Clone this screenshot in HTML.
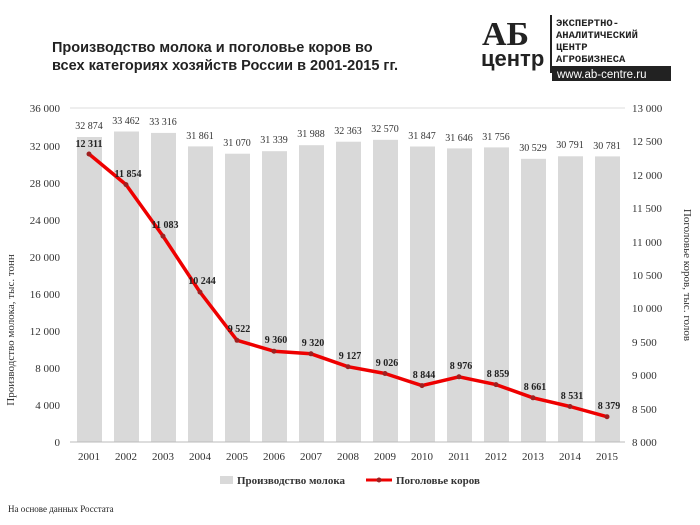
<!DOCTYPE html>
<html><head><meta charset="utf-8"><style>
body{margin:0;background:#fff;}
svg{display:block;font-family:"Liberation Serif",serif;}
</style></head><body>
<svg width="700" height="525" viewBox="0 0 700 525" xmlns="http://www.w3.org/2000/svg">
<text x="52" y="52" font-family="Liberation Sans,sans-serif" font-weight="bold" font-size="14.5" fill="#222">Производство молока и поголовье коров во</text>
<text x="52" y="70" font-family="Liberation Sans,sans-serif" font-weight="bold" font-size="14.5" fill="#222">всех категориях хозяйств России в 2001-2015 гг.</text>
<!-- logo -->
<g font-family="Liberation Serif,serif" font-weight="bold" fill="#222">
<text x="482" y="45" font-size="34">АБ</text>
<text x="481" y="66" font-size="22" font-family="Liberation Sans,sans-serif">центр</text>
</g>
<rect x="550" y="15" width="2" height="58" fill="#222"/>
<g font-family="Liberation Mono,monospace" font-weight="bold" font-size="10.5" fill="#222">
<text x="556" y="26">ЭКСПЕРТНО-</text>
<text x="556" y="38">АНАЛИТИЧЕСКИЙ</text>
<text x="556" y="50">ЦЕНТР</text>
<text x="556" y="62">АГРОБИЗНЕСА</text>
</g>
<rect x="552" y="66" width="119" height="15" fill="#222"/>
<text x="557" y="78" font-family="Liberation Sans,sans-serif" font-size="11.5" fill="#fff">www.ab-centre.ru</text>
<line x1="70" y1="108" x2="625" y2="108" stroke="#ddd"/>
<g fill="#d9d9d9">
<rect x="77" y="137" width="25" height="305"/>
<rect x="114" y="131.5" width="25" height="310.5"/>
<rect x="151" y="132.9" width="25" height="309.1"/>
<rect x="188" y="146.4" width="25" height="295.6"/>
<rect x="225" y="153.7" width="25" height="288.3"/>
<rect x="262" y="151.2" width="25" height="290.8"/>
<rect x="299" y="145.2" width="25" height="296.8"/>
<rect x="336" y="141.7" width="25" height="300.3"/>
<rect x="373" y="139.8" width="25" height="302.2"/>
<rect x="410" y="146.5" width="25" height="295.5"/>
<rect x="447" y="148.4" width="25" height="293.6"/>
<rect x="484" y="147.4" width="25" height="294.6"/>
<rect x="521" y="158.8" width="25" height="283.2"/>
<rect x="558" y="156.3" width="25" height="285.7"/>
<rect x="595" y="156.4" width="25" height="285.6"/>
</g>
<line x1="70" y1="442" x2="625" y2="442" stroke="#bbb"/>
<g font-size="10" fill="#333" text-anchor="middle">
<text x="89" y="129">32 874</text><text x="126" y="124">33 462</text><text x="163" y="125">33 316</text>
<text x="200" y="139">31 861</text><text x="237" y="146">31 070</text><text x="274" y="143">31 339</text>
<text x="311" y="137">31 988</text><text x="348" y="134">32 363</text><text x="385" y="132">32 570</text>
<text x="422" y="139">31 847</text><text x="459" y="141">31 646</text><text x="496" y="140">31 756</text>
<text x="533" y="151">30 529</text><text x="570" y="148">30 791</text><text x="607" y="149">30 781</text>
</g>
<polyline fill="none" stroke="#e00" stroke-width="3.5" stroke-linejoin="round" points="89,154 126,184.6 163,236.1 200,292.1 237,340.3 274,351.2 311,353.8 348,366.7 385,373.5 422,385.6 459,376.8 496,384.6 533,397.8 570,406.5 607,416.7"/>
<g fill="#a02020">
<circle cx="89" cy="154" r="2.5"/><circle cx="126" cy="184.6" r="2.5"/><circle cx="163" cy="236.1" r="2.5"/><circle cx="200" cy="292.1" r="2.5"/><circle cx="237" cy="340.3" r="2.5"/><circle cx="274" cy="351.2" r="2.5"/><circle cx="311" cy="353.8" r="2.5"/><circle cx="348" cy="366.7" r="2.5"/><circle cx="385" cy="373.5" r="2.5"/><circle cx="422" cy="385.6" r="2.5"/><circle cx="459" cy="376.8" r="2.5"/><circle cx="496" cy="384.6" r="2.5"/><circle cx="533" cy="397.8" r="2.5"/><circle cx="570" cy="406.5" r="2.5"/><circle cx="607" cy="416.7" r="2.5"/>
</g>
<g font-size="10" font-weight="bold" fill="#222" text-anchor="middle">
<text x="89" y="147">12 311</text><text x="128" y="177">11 854</text><text x="165" y="228">11 083</text>
<text x="202" y="284">10 244</text><text x="239" y="332">9 522</text><text x="276" y="343">9 360</text>
<text x="313" y="346">9 320</text><text x="350" y="359">9 127</text><text x="387" y="366">9 026</text>
<text x="424" y="378">8 844</text><text x="461" y="369">8 976</text><text x="498" y="377">8 859</text>
<text x="535" y="390">8 661</text><text x="572" y="399">8 531</text><text x="609" y="409">8 379</text>
</g>
<g font-size="11" fill="#333" text-anchor="end">
<text x="60" y="112">36 000</text><text x="60" y="150">32 000</text><text x="60" y="187">28 000</text>
<text x="60" y="224">24 000</text><text x="60" y="261">20 000</text><text x="60" y="298">16 000</text>
<text x="60" y="335">12 000</text><text x="60" y="372">8 000</text><text x="60" y="409">4 000</text><text x="60" y="446">0</text>
</g>
<g font-size="11" fill="#333">
<text x="632" y="112">13 000</text><text x="632" y="145">12 500</text><text x="632" y="179">12 000</text>
<text x="632" y="212">11 500</text><text x="632" y="246">11 000</text><text x="632" y="279">10 500</text>
<text x="632" y="312">10 000</text><text x="632" y="346">9 500</text><text x="632" y="379">9 000</text>
<text x="632" y="413">8 500</text><text x="632" y="446">8 000</text>
</g>
<g font-size="11" fill="#333" text-anchor="middle">
<text x="89" y="460">2001</text><text x="126" y="460">2002</text><text x="163" y="460">2003</text><text x="200" y="460">2004</text><text x="237" y="460">2005</text><text x="274" y="460">2006</text><text x="311" y="460">2007</text><text x="348" y="460">2008</text><text x="385" y="460">2009</text><text x="422" y="460">2010</text><text x="459" y="460">2011</text><text x="496" y="460">2012</text><text x="533" y="460">2013</text><text x="570" y="460">2014</text><text x="607" y="460">2015</text>
</g>
<text transform="translate(14,330) rotate(-90)" font-size="11" fill="#333" text-anchor="middle">Производство молока, тыс. тонн</text>
<text transform="translate(684,275) rotate(90)" font-size="11" fill="#333" text-anchor="middle">Поголовье коров, тыс. голов</text>
<rect x="220" y="476" width="13" height="8" fill="#d9d9d9"/>
<text x="237" y="484" font-size="11" font-weight="bold" fill="#333">Производство молока</text>
<line x1="366" y1="480" x2="392" y2="480" stroke="#e00" stroke-width="3"/>
<circle cx="379" cy="480" r="2.5" fill="#a02020"/>
<text x="396" y="484" font-size="11" font-weight="bold" fill="#333">Поголовье коров</text>
<text x="8" y="512" font-size="9" fill="#222">На основе данных Росстата</text>
</svg>
</body></html>
